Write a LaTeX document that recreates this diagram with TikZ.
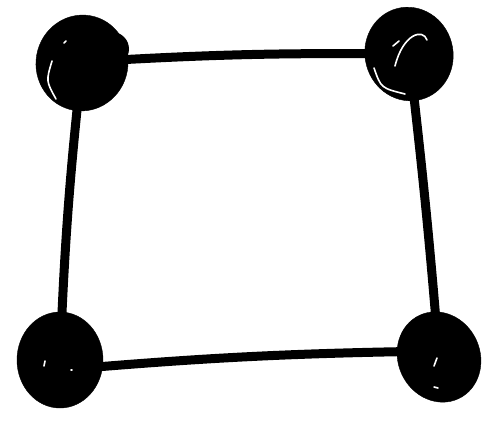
\documentclass[tikz,border=0pt]{standalone}
\usetikzlibrary{shapes.geometric}
\begin{document}
\begin{tikzpicture}[x=1pt,y=-1pt,
  blob/.style={ellipse,fill=black,draw=black,inner sep=0pt},
  edge/.style={line width=9pt,line cap=round,draw=black},
  shine/.style={draw=white,line width=1.6pt,line cap=round}]
\useasboundingbox (0,0) rectangle (490,424);
\node[blob,minimum width=92pt,minimum height=96pt,rotate=-10] (tl) at (82,63) {};
\fill[black] ([shift={(30,-14)}]tl.center) circle[radius=17pt];
\node[blob,minimum width=88pt,minimum height=94pt,rotate=15] (tr) at (409,54) {};
\node[blob,minimum width=86pt,minimum height=96pt] (bl) at (60,360) {};
\node[blob,minimum width=82pt,minimum height=92pt,rotate=25] (br) at (439,357) {};
\draw[edge] ([shift={(0,-1)}]tl.center) to[bend left=2] ([shift={(0,0)}]tr.center);
\draw[edge] (tl.center) to[bend right=2] (bl.center);
\draw[edge] (tr.center) to[bend left=1] (br.center);
\draw[edge] ([shift={(0,10)}]bl.center) to[bend left=2] ([shift={(0,-6)}]br.center);
% highlights
\draw[shine] ([shift={(-30,-2)}]tl.center) .. controls ([shift={(-36,18)}]tl.center) .. ([shift={(-26,36)}]tl.center);
\draw[shine] ([shift={(-18,-20)}]tl.center) -- ([shift={(-16,-22)}]tl.center);
\draw[shine] ([shift={(-14,12)}]tr.center) .. controls ([shift={(-6,-20)}]tr.center) and ([shift={(14,-26)}]tr.center) .. ([shift={(18,-14)}]tr.center);
\draw[shine] ([shift={(-35,14)}]tr.center) .. controls ([shift={(-28,34)}]tr.center) .. ([shift={(-4,40)}]tr.center);
\draw[shine] ([shift={(-16,-8)}]tr.center) -- ([shift={(-10,-13)}]tr.center);
\draw[shine] ([shift={(-16,6)}]bl.center) -- ([shift={(-15,1)}]bl.center);
\draw[shine] ([shift={(11,10)}]bl.center) -- ([shift={(12,10)}]bl.center);
\draw[shine] ([shift={(-5,9)}]br.center) -- ([shift={(-2,1)}]br.center);
\draw[shine] ([shift={(-5,30)}]br.center) -- ([shift={(-1,31)}]br.center);
\end{tikzpicture}
\end{document}
